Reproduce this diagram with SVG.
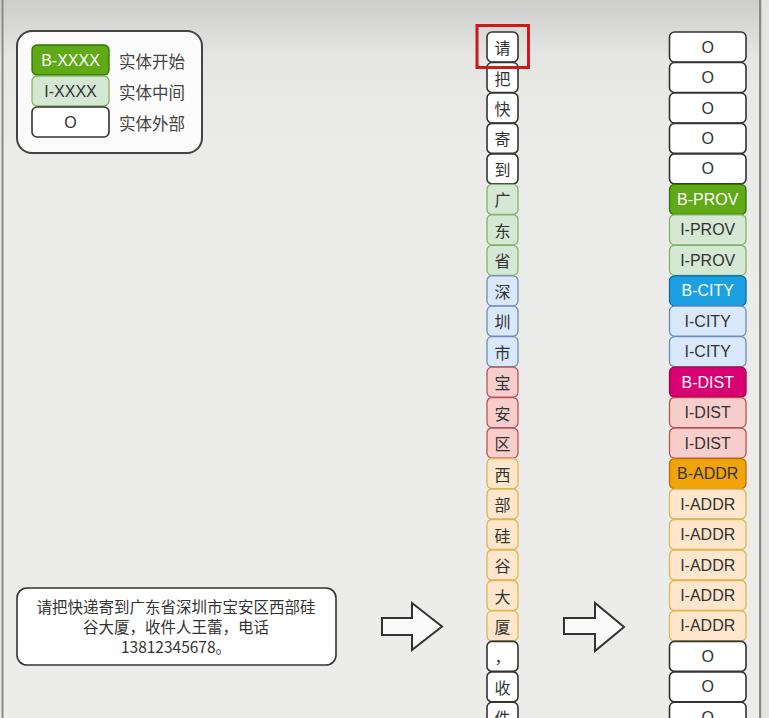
<svg xmlns="http://www.w3.org/2000/svg" width="769" height="718" viewBox="0 0 769 718">
<defs>
<linearGradient id="bg" x1="0" y1="0" x2="0" y2="1">
<stop offset="0" stop-color="#cdcdcb"/>
<stop offset="0.08" stop-color="#e6e6e4"/>
<stop offset="0.2" stop-color="#ebebe9"/>
<stop offset="1" stop-color="#ececea"/>
</linearGradient>
<style>
.o{fill:#ffffff;stroke:#333333;stroke-width:1.6}
.gl{fill:#d5e8d4;stroke:#82b366;stroke-width:1.3}
.bl{fill:#dae8fc;stroke:#6c8ebf;stroke-width:1.3}
.rl{fill:#f8cecc;stroke:#b85450;stroke-width:1.3}
.ol{fill:#ffe6cc;stroke:#e3b54a;stroke-width:1.3}
.gd{fill:#60a917;stroke:#2d7600;stroke-width:1.3}
.bd{fill:#1ba1e2;stroke:#006eaf;stroke-width:1.3}
.rd{fill:#d80073;stroke:#a50040;stroke-width:1.3}
.od{fill:#f0a30a;stroke:#bd7000;stroke-width:1.3}
.ch{font-family:"Noto Sans CJK SC",sans-serif;font-size:16px;fill:#333333;text-anchor:middle;dominant-baseline:central}
.tg{font-family:"Liberation Sans",Arial,sans-serif;font-size:16px;fill:#333333;text-anchor:middle;dominant-baseline:central}
.tw{fill:#ffffff}
.lb{font-family:"Noto Sans CJK SC",sans-serif;font-size:16.5px;fill:#444444;dominant-baseline:central}
.st{font-family:"Noto Sans CJK SC",sans-serif;font-size:15.5px;fill:#333333;text-anchor:middle}
.arr{fill:#fafafa;stroke:#333333;stroke-width:2;stroke-linejoin:miter}
</style>
</defs>
<rect x="0" y="0" width="769" height="718" fill="url(#bg)"/>
<rect x="1.5" y="0" width="2" height="718" fill="#8a8a8a"/>
<rect x="759" y="0" width="2.5" height="718" fill="#8a8a8a"/>
<rect x="761.5" y="0" width="7.5" height="718" fill="#e4e4e2"/>

<g id="legend">
<rect x="17" y="31" width="185" height="122" rx="15" fill="#fbfbfb" stroke="#444444" stroke-width="2"/>
<rect class="gd" x="32" y="45" width="77" height="30" rx="5"/>
<text class="tg tw" x="70.5" y="60.5">B-XXXX</text>
<rect class="gl" x="32" y="76" width="77" height="30" rx="5"/>
<text class="tg" x="70.5" y="91">I-XXXX</text>
<rect class="o" x="32" y="107" width="77" height="30" rx="5"/>
<text class="tg" x="70.5" y="122">O</text>
<text class="lb" x="119" y="61">实体开始</text>
<text class="lb" x="119" y="92">实体中间</text>
<text class="lb" x="119" y="123">实体外部</text>
</g>

<g id="sentence">
<rect x="17" y="588" width="319" height="77" rx="10" fill="#ffffff" stroke="#333333" stroke-width="1.6"/>
<text class="st" x="176" y="612.5">请把快递寄到广东省深圳市宝安区西部硅</text>
<text class="st" x="176" y="632.5">谷大厦，收件人王蕾，电话</text>
<text class="st" x="176" y="652.5">13812345678。</text>
</g>

<g id="connectors">
<path class="arr" d="M382,618 L412,618 L412,603 L442,626.5 L412,650 L412,635 L382,635 Z"/>
<path class="arr" d="M564,618 L595,618 L595,603 L624,627 L595,651 L595,634 L564,634 Z"/>
</g>

<g id="tokens">
<g id="tok0"><rect class="o" x="487" y="32" width="31" height="30" rx="5"/><text class="ch" x="502.5" y="47">请</text></g>
<g id="tok1"><rect class="o" x="487" y="62.5" width="31" height="30" rx="5"/><text class="ch" x="502.5" y="77.5">把</text></g>
<g id="tok2"><rect class="o" x="487" y="93" width="31" height="30" rx="5"/><text class="ch" x="502.5" y="108">快</text></g>
<g id="tok3"><rect class="o" x="487" y="123.4" width="31" height="30" rx="5"/><text class="ch" x="502.5" y="138.4">寄</text></g>
<g id="tok4"><rect class="o" x="487" y="153.9" width="31" height="30" rx="5"/><text class="ch" x="502.5" y="168.9">到</text></g>
<g id="tok5"><rect class="gl" x="487" y="184.4" width="31" height="30" rx="5"/><text class="ch" x="502.5" y="199.4">广</text></g>
<g id="tok6"><rect class="gl" x="487" y="214.8" width="31" height="30" rx="5"/><text class="ch" x="502.5" y="229.8">东</text></g>
<g id="tok7"><rect class="gl" x="487" y="245.3" width="31" height="30" rx="5"/><text class="ch" x="502.5" y="260.3">省</text></g>
<g id="tok8"><rect class="bl" x="487" y="275.8" width="31" height="30" rx="5"/><text class="ch" x="502.5" y="290.8">深</text></g>
<g id="tok9"><rect class="bl" x="487" y="306.2" width="31" height="30" rx="5"/><text class="ch" x="502.5" y="321.2">圳</text></g>
<g id="tok10"><rect class="bl" x="487" y="336.7" width="31" height="30" rx="5"/><text class="ch" x="502.5" y="351.7">市</text></g>
<g id="tok11"><rect class="rl" x="487" y="367.2" width="31" height="30" rx="5"/><text class="ch" x="502.5" y="382.2">宝</text></g>
<g id="tok12"><rect class="rl" x="487" y="397.6" width="31" height="30" rx="5"/><text class="ch" x="502.5" y="412.6">安</text></g>
<g id="tok13"><rect class="rl" x="487" y="428.1" width="31" height="30" rx="5"/><text class="ch" x="502.5" y="443.1">区</text></g>
<g id="tok14"><rect class="ol" x="487" y="458.6" width="31" height="30" rx="5"/><text class="ch" x="502.5" y="473.6">西</text></g>
<g id="tok15"><rect class="ol" x="487" y="489" width="31" height="30" rx="5"/><text class="ch" x="502.5" y="504">部</text></g>
<g id="tok16"><rect class="ol" x="487" y="519.5" width="31" height="30" rx="5"/><text class="ch" x="502.5" y="534.5">硅</text></g>
<g id="tok17"><rect class="ol" x="487" y="550" width="31" height="30" rx="5"/><text class="ch" x="502.5" y="565">谷</text></g>
<g id="tok18"><rect class="ol" x="487" y="580.5" width="31" height="30" rx="5"/><text class="ch" x="502.5" y="595.5">大</text></g>
<g id="tok19"><rect class="ol" x="487" y="610.9" width="31" height="30" rx="5"/><text class="ch" x="502.5" y="625.9">厦</text></g>
<g id="tok20"><rect class="o" x="487" y="641.4" width="31" height="30" rx="5"/><text class="ch" x="502.5" y="656.4">，</text></g>
<g id="tok21"><rect class="o" x="487" y="671.9" width="31" height="30" rx="5"/><text class="ch" x="502.5" y="686.9">收</text></g>
<g id="tok22"><rect class="o" x="487" y="702.3" width="31" height="30" rx="5"/><text class="ch" x="502.5" y="717.3">件</text></g>
</g>

<rect id="highlight" x="477" y="25.5" width="51.5" height="42" fill="none" stroke="#cc1a1a" stroke-width="3"/>

<g id="tags">
<g id="tag0"><rect class="o" x="669.5" y="32" width="76.5" height="30" rx="5"/><text class="tg" x="707.7" y="47">O</text></g>
<g id="tag1"><rect class="o" x="669.5" y="62.5" width="76.5" height="30" rx="5"/><text class="tg" x="707.7" y="77.5">O</text></g>
<g id="tag2"><rect class="o" x="669.5" y="93" width="76.5" height="30" rx="5"/><text class="tg" x="707.7" y="108">O</text></g>
<g id="tag3"><rect class="o" x="669.5" y="123.4" width="76.5" height="30" rx="5"/><text class="tg" x="707.7" y="138.4">O</text></g>
<g id="tag4"><rect class="o" x="669.5" y="153.9" width="76.5" height="30" rx="5"/><text class="tg" x="707.7" y="168.9">O</text></g>
<g id="tag5"><rect class="gd" x="669.5" y="184.4" width="76.5" height="30" rx="5"/><text class="tg tw" x="707.7" y="199.4">B-PROV</text></g>
<g id="tag6"><rect class="gl" x="669.5" y="214.8" width="76.5" height="30" rx="5"/><text class="tg" x="707.7" y="229.8">I-PROV</text></g>
<g id="tag7"><rect class="gl" x="669.5" y="245.3" width="76.5" height="30" rx="5"/><text class="tg" x="707.7" y="260.3">I-PROV</text></g>
<g id="tag8"><rect class="bd" x="669.5" y="275.8" width="76.5" height="30" rx="5"/><text class="tg tw" x="707.7" y="290.8">B-CITY</text></g>
<g id="tag9"><rect class="bl" x="669.5" y="306.2" width="76.5" height="30" rx="5"/><text class="tg" x="707.7" y="321.2">I-CITY</text></g>
<g id="tag10"><rect class="bl" x="669.5" y="336.7" width="76.5" height="30" rx="5"/><text class="tg" x="707.7" y="351.7">I-CITY</text></g>
<g id="tag11"><rect class="rd" x="669.5" y="367.2" width="76.5" height="30" rx="5"/><text class="tg tw" x="707.7" y="382.2">B-DIST</text></g>
<g id="tag12"><rect class="rl" x="669.5" y="397.6" width="76.5" height="30" rx="5"/><text class="tg" x="707.7" y="412.6">I-DIST</text></g>
<g id="tag13"><rect class="rl" x="669.5" y="428.1" width="76.5" height="30" rx="5"/><text class="tg" x="707.7" y="443.1">I-DIST</text></g>
<g id="tag14"><rect class="od" x="669.5" y="458.6" width="76.5" height="30" rx="5"/><text class="tg" x="707.7" y="473.6">B-ADDR</text></g>
<g id="tag15"><rect class="ol" x="669.5" y="489" width="76.5" height="30" rx="5"/><text class="tg" x="707.7" y="504">I-ADDR</text></g>
<g id="tag16"><rect class="ol" x="669.5" y="519.5" width="76.5" height="30" rx="5"/><text class="tg" x="707.7" y="534.5">I-ADDR</text></g>
<g id="tag17"><rect class="ol" x="669.5" y="550" width="76.5" height="30" rx="5"/><text class="tg" x="707.7" y="565">I-ADDR</text></g>
<g id="tag18"><rect class="ol" x="669.5" y="580.5" width="76.5" height="30" rx="5"/><text class="tg" x="707.7" y="595.5">I-ADDR</text></g>
<g id="tag19"><rect class="ol" x="669.5" y="610.9" width="76.5" height="30" rx="5"/><text class="tg" x="707.7" y="625.9">I-ADDR</text></g>
<g id="tag20"><rect class="o" x="669.5" y="641.4" width="76.5" height="30" rx="5"/><text class="tg" x="707.7" y="656.4">O</text></g>
<g id="tag21"><rect class="o" x="669.5" y="671.9" width="76.5" height="30" rx="5"/><text class="tg" x="707.7" y="686.9">O</text></g>
<g id="tag22"><rect class="o" x="669.5" y="702.3" width="76.5" height="30" rx="5"/><text class="tg" x="707.7" y="717.3">O</text></g>
</g>
</svg>
